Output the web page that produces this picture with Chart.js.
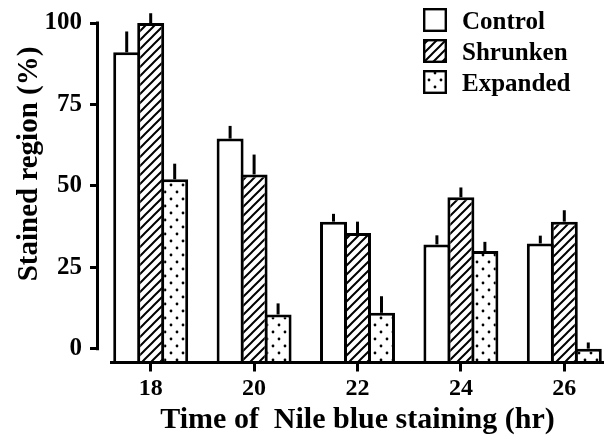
<!DOCTYPE html>
<html>
<head>
<meta charset="utf-8">
<script src="https://cdn.jsdelivr.net/npm/chart.js@4/dist/chart.umd.min.js"></script>
<style>
  html, body { margin: 0; padding: 0; background: #fff; overflow: hidden; width: 604px; height: 438px; }
  #wrap { width: 616px; height: 438px; }
</style>
</head>
<body>
<div id="wrap"><canvas id="c" width="616" height="438"></canvas></div>
<script>
// ---- data ----
const times = ['18', '20', '22', '24', '26'];
const control = [91, 64.5, 39, 32, 32.3];
const controlErr = [6.4, 3.9, 2.4, 2.8, 2.4];
const shrunken = [100, 53.5, 35.5, 46.5, 39];
const shrunkenErr = [3, 6.1, 3.5, 3, 3.5];
const expanded = [52, 10.5, 11, 30, 0];
const expandedErr = [4.8, 3.4, 5.1, 2.8, 1.9];
const yTicks = [0, 25, 50, 75, 100];
const seriesNames = ['Control', 'Shrunken', 'Expanded'];
const xTitle = 'Time of  Nile blue staining (hr)';
const yTitle = 'Stained region (%)';

const FONT = "'Liberation Serif', 'Times New Roman', serif";
const Y_MIN = -4.25;

// ---- patterns ----
function hatchPattern() {
  const s = 9;
  const c = document.createElement('canvas');
  c.width = s; c.height = s;
  const g = c.getContext('2d');
  g.fillStyle = '#fff'; g.fillRect(0, 0, s, s);
  g.strokeStyle = '#000'; g.lineWidth = 2;
  g.beginPath();
  g.moveTo(-1, s + 1); g.lineTo(s + 1, -1);
  g.moveTo(-2, 2); g.lineTo(2, -2);
  g.moveTo(s - 2, s + 2); g.lineTo(s + 2, s - 2);
  g.stroke();
  return g.createPattern(c, 'repeat');
}
function dotPattern() {
  const w = 12, h = 14;
  const c = document.createElement('canvas');
  c.width = w; c.height = h;
  const g = c.getContext('2d');
  g.fillStyle = '#fff'; g.fillRect(0, 0, w, h);
  g.fillStyle = '#000';
  [[3, 3], [9, 10]].forEach(([x, y]) => { g.beginPath(); g.arc(x, y, 1.4, 0, Math.PI * 2); g.fill(); });
  return g.createPattern(c, 'repeat');
}

const errs = [controlErr, shrunkenErr, expandedErr];

const errorBars = {
  id: 'errorBars',
  afterDatasetsDraw(chart) {
    const ctx = chart.ctx;
    const ys = chart.scales.y;
    ctx.save();
    ctx.strokeStyle = '#000';
    ctx.lineWidth = 3;
    chart.data.datasets.forEach((ds, di) => {
      const meta = chart.getDatasetMeta(di);
      meta.data.forEach((bar, i) => {
        const top = ys.getPixelForValue(ds.data[i] + errs[di][i]);
        ctx.beginPath();
        ctx.moveTo(bar.x, bar.y);
        ctx.lineTo(bar.x, top);
        ctx.stroke();
      });
    });
    ctx.restore();
  }
};

const axesLines = {
  id: 'axesLines',
  afterDraw(chart) {
    const ctx = chart.ctx;
    const ys = chart.scales.y;
    const ca = chart.chartArea;
    ctx.save();
    ctx.strokeStyle = '#000';
    ctx.lineWidth = 3;
    ctx.lineCap = 'butt';
    // y axis line from 0 to 100
    ctx.beginPath();
    ctx.moveTo(ca.left - 1.5, ys.getPixelForValue(100) - 1.5);
    ctx.lineTo(ca.left - 1.5, ys.getPixelForValue(0) + 1.5);
    ctx.stroke();
    // x axis line
    ctx.beginPath();
    ctx.moveTo(110, ca.bottom);
    ctx.lineTo(ca.right, ca.bottom);
    ctx.stroke();
    // y title
    ctx.fillStyle = '#000';
    ctx.font = "bold 29px " + FONT;
    ctx.textAlign = 'center';
    ctx.textBaseline = 'alphabetic';
    ctx.translate(37, 164);
    ctx.rotate(-Math.PI / 2);
    ctx.fillText(yTitle, 0, 0);
    ctx.restore();
  }
};

const legendBoxes = {
  id: 'legendBoxes',
  afterDraw(chart) {
    const ctx = chart.ctx;
    ctx.save();
    chart.data.datasets.forEach((ds, i) => {
      const y = 8 + i * 31;
      ctx.fillStyle = ds.backgroundColor;
      ctx.fillRect(423, y, 24, 24);
      ctx.strokeStyle = '#000';
      ctx.lineWidth = 2.4;
      ctx.strokeRect(424.2, y + 1.2, 21.6, 21.6);
      ctx.fillStyle = '#000';
      ctx.font = "bold 25px " + FONT;
      ctx.textAlign = 'left';
      ctx.textBaseline = 'alphabetic';
      ctx.fillText(ds.label, 462, y + 21);
    });
    ctx.restore();
  }
};

const fills = ['#ffffff', hatchPattern(), dotPattern()];
const values = [control, shrunken, expanded];

new Chart(document.getElementById('c'), {
  type: 'bar',
  data: {
    labels: times,
    datasets: values.map((v, i) => ({
      label: seriesNames[i],
      data: v,
      base: Y_MIN,
      backgroundColor: fills[i],
      borderColor: '#000',
      borderWidth: 3,
      borderSkipped: 'start',
      categoryPercentage: 0.696,
      barPercentage: 1.125
    }))
  },
  options: {
    responsive: false,
    animation: false,
    devicePixelRatio: 1,
    layout: { padding: { top: 19.5, left: 0, right: 0, bottom: 0 } },
    plugins: { legend: { display: false }, tooltip: { enabled: false } },
    scales: {
      x: {
        type: 'category',
        offset: true,
        grid: { display: true, offset: false, drawOnChartArea: false, drawTicks: true, tickLength: 9, tickWidth: 3, tickColor: '#000' },
        border: { display: false },
        ticks: { color: '#000', font: { family: FONT, size: 24, weight: 'bold' }, padding: 3, maxRotation: 0 },
        title: { display: true, text: xTitle, color: '#000', font: { family: FONT, size: 30, weight: 'bold' }, padding: { top: 0, bottom: 0 } },
        afterFit(s) { s.height = 438 - 362.5; }
      },
      y: {
        min: Y_MIN,
        max: 100,
        grid: { display: true, drawOnChartArea: false, drawTicks: true, tickLength: 9, tickWidth: 3, tickColor: '#000' },
        border: { display: false },
        ticks: { color: '#000', font: { family: FONT, size: 25, weight: 'bold' }, padding: 8 },
        afterBuildTicks(s) { s.ticks = yTicks.map(v => ({ value: v })); },
        afterFit(s) { s.width = 99; }
      }
    }
  },
  plugins: [errorBars, axesLines, legendBoxes]
});
</script>
</body>
</html>
